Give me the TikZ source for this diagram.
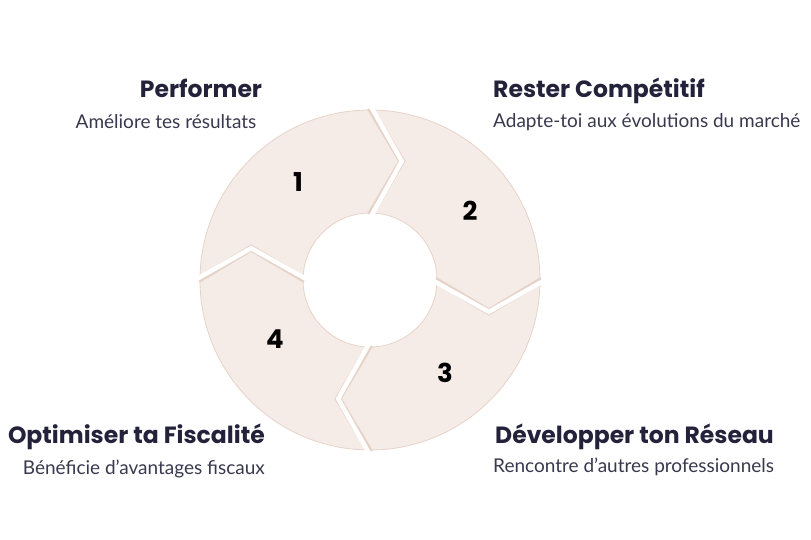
\documentclass[tikz,border=0pt]{standalone}
\usetikzlibrary{calc}
\usepackage{fontspec}
\setmainfont{Lato}
\newfontfamily\headfont{Poppins}[UprightFont=* Bold]
\definecolor{ringfill}{HTML}{F6ECE7}
\definecolor{ringline}{HTML}{E6D3C8}
\definecolor{navy}{HTML}{23223A}
\begin{document}
\begin{tikzpicture}[x=1pt,y=-1pt,
  head/.style={font=\headfont\fontsize{23.5}{25}\selectfont,text=navy,inner sep=0},
  desc/.style={font=\fontsize{19}{21}\selectfont,text=navy!90,inner sep=0},
  num/.style={font=\headfont\fontsize{26}{28}\selectfont,text=black,inner sep=0},
  gapedge/.style={ringline,line width=6.5,line join=miter},
  gapcore/.style={white,line width=4.5,line join=miter}]
\useasboundingbox (0,0) rectangle (811,540);
\coordinate (c) at (370,280);
\fill[ringfill,even odd rule] (c) circle (170) (c) circle (67);
\draw[ringline,line width=0.8] (c) circle (170) (c) circle (67);
\foreach \a in {90,0,-90,180}{
  \draw[gapedge] ($(c)+(\a:172)$) -- ($(c)+({\a+15}:123)$) -- ($(c)+(\a:65)$);
}
\foreach \a in {90,0,-90,180}{
  \draw[gapcore] ($(c)+(\a:175)$) -- ($(c)+({\a+15}:123)$) -- ($(c)+(\a:62)$);
}
\node[num] (n1) at (298,182) {1};
\node[num] (n2) at (470,211) {2};
\node[num] (n3) at (445,373) {3};
\node[num] (n4) at (275,339) {4};
\node[head] (h1) at (201,88) {Performer};
\node[desc] (d1) at (166,122) {Améliore tes résultats};
\node[head,anchor=west] (h2) at (493,91) {Rester Compétitif};
\node[desc,anchor=west] (d2) at (493,122) {Adapte-toi aux évolutions du marché};
\node[head,anchor=east] (h4) at (265,437) {Optimiser ta Fiscalité};
\node[desc,anchor=east] (d4) at (265,469) {Bénéficie d’avantages fiscaux};
\node[head,anchor=west] (h3) at (495,437) {Développer ton Réseau};
\node[desc,anchor=west] (d3) at (493,467) {Rencontre d’autres professionnels};
\end{tikzpicture}
\end{document}
